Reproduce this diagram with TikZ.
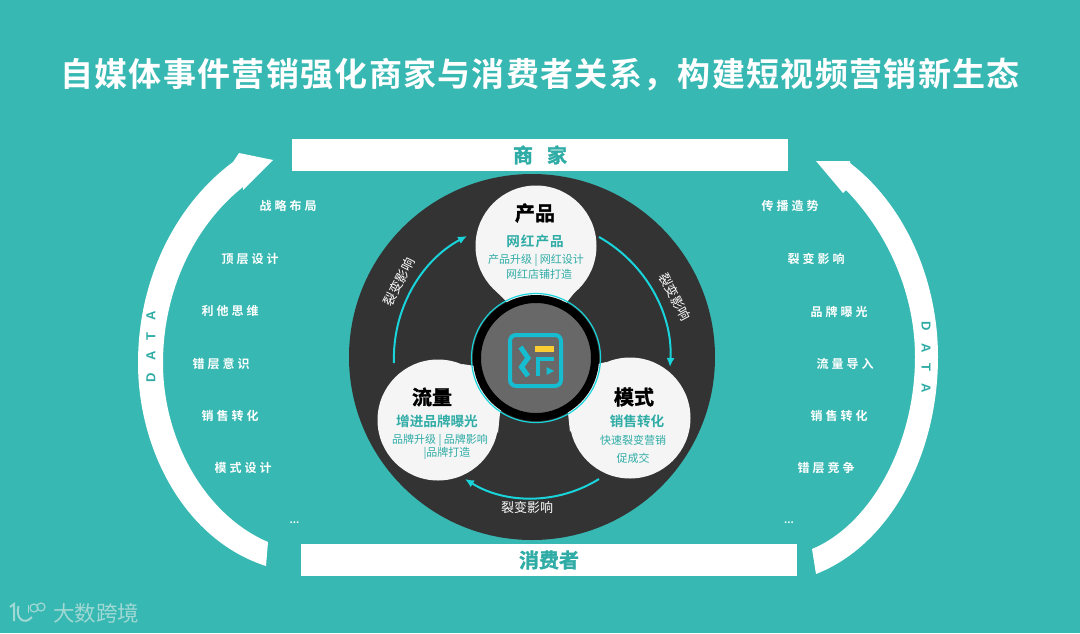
\documentclass[tikz,border=0pt]{standalone}
\usepackage{fontspec}
\setmainfont{Noto Sans CJK SC}[BoldFont={* Bold}]
\newfontfamily\datafont{Liberation Sans}[BoldFont={* Bold},LetterSpace=95]
\newfontfamily\sidefont{Noto Sans CJK SC}[BoldFont={* Bold},LetterSpace=25]
\newfontfamily\titlefont{Noto Sans CJK SC}[BoldFont={* Bold},LetterSpace=4]
\newfontfamily\heavyfont{Noto Sans CJK SC}[UprightFont={* Bold},FakeBold=1.6]
\usetikzlibrary{arrows.meta,positioning}
\definecolor{bgteal}{RGB}{55,184,178}
\definecolor{textteal}{RGB}{47,172,166}
\definecolor{discgray}{RGB}{51,51,51}
\definecolor{hubgray}{RGB}{104,104,104}
\definecolor{ringcyan}{RGB}{25,212,218}
\definecolor{iconcyan}{RGB}{22,188,208}
\definecolor{iconyellow}{RGB}{250,205,50}
\definecolor{petal}{RGB}{245,245,245}
\definecolor{markgray}{RGB}{160,216,212}

\begin{document}
\begin{tikzpicture}[x=1pt,y=-1pt]
        \tikzstyle{banner}=[fill=white,minimum width=496pt,minimum height=32pt,inner sep=0pt,text=textteal,font=\fontsize{20}{22}\heavyfont]
        \tikzstyle{sidelabel}=[text=white,inner sep=0pt,font=\fontsize{12}{14}\sidefont\bfseries]
        \tikzstyle{sidedots}=[text=white,inner sep=0pt,font=\fontsize{10}{11}\selectfont\bfseries]
        \tikzstyle{petalbox}=[circle,fill=petal,minimum size=121pt,inner sep=0pt]
        \tikzstyle{headline}=[inner sep=0pt,text=black,font=\fontsize{20}{22}\heavyfont]
        \tikzstyle{subline}=[inner sep=0pt,text=textteal,font=\fontsize{13.6}{16}\selectfont\bfseries]
        \tikzstyle{detail}=[inner sep=0pt,text=textteal,font=\fontsize{11}{13}\selectfont]
        \tikzstyle{flow}=[-{Latex[length=9pt,width=8pt]},ringcyan,line width=2pt,bend left=32,looseness=.92]
        \tikzstyle{flowlabel}=[inner sep=0pt,text=white,font=\fontsize{13}{15}\selectfont]
        \tikzstyle{logostroke}=[markgray,line width=2pt]
        \fill[bgteal] (0,0) rectangle (1080,633);
        \useasboundingbox (0,0) rectangle (1080,633);
        \node[inner sep=0pt,text=white,font=\fontsize{33}{36}\titlefont\bfseries] (title) at (540,75) {自媒体事件营销强化商家与消费者关系，构建短视频营销新生态};
        \node[banner] (merchant) at (540,155) {商\hspace{14pt}家};
        \node[banner] (consumer) at (549,560) {消费者};
        % big arrows
        \fill[white] (266,566) .. controls (185,540) and (138,450) .. (138,363) .. controls (138,280) and (175,205) .. (233,162) -- (239,153) -- (273,160) -- (243,190) -- (243,187) .. controls (195,225) and (163,290) .. (163,363) .. controls (163,440) and (205,515) .. (268,542) -- cycle;
        \fill[white] (816,574) .. controls (890,545) and (938,455) .. (938,357) .. controls (938,280) and (905,205) .. (850,163) -- (850,161) -- (816,161) -- (843,193) -- (846,190) .. controls (885,230) and (915,290) .. (915,357) .. controls (915,445) and (870,525) .. (812,549) -- cycle;
        \node[inner sep=0pt,rotate=90,text=textteal,font=\fontsize{13}{15}\datafont\bfseries] (dataleft) at (151,347) {DATA};
        \node[inner sep=0pt,rotate=-90,text=textteal,font=\fontsize{13}{15}\datafont\bfseries] (dataright) at (926,357) {DATA};
        % left list
        \node[sidelabel] (l1) at (288,206) {战略布局};
        \node[sidelabel] (l2) at (250,259) {顶层设计};
        \node[sidelabel] (l3) at (230,311) {利他思维};
        \node[sidelabel] (l4) at (221,364) {错层意识};
        \node[sidelabel] (l5) at (230,416) {销售转化};
        \node[sidelabel] (l6) at (243,468) {模式设计};
        \node[sidedots] (l7) at (294.5,523) {...};
        % right list
        \node[sidelabel] (r1) at (790,206) {传播造势};
        \node[sidelabel] (r2) at (816,259) {裂变影响};
        \node[sidelabel] (r3) at (839,312) {品牌曝光};
        \node[sidelabel] (r4) at (845,364) {流量导入};
        \node[sidelabel] (r5) at (839,416) {销售转化};
        \node[sidelabel] (r6) at (826,468) {错层竞争};
        \node[sidedots] (r7) at (789,523) {...};
        % disc
        \node[circle,fill=discgray,minimum size=366pt,inner sep=0pt] (disc) at (532,357) {};
        \coordinate (hub) at (536,358);
        \fill[petal] (497,292) -- (505,300) -- (hub) -- (567,302) -- (575,292) -- cycle;
        \fill[petal] (462,364) -- (475,366) -- (hub) -- (500,413) -- (498,433) -- cycle;
        \fill[petal] (606,362) -- (598,364) -- (hub) -- (568,413) -- (570,432) -- cycle;
        \node[petalbox] (product) at (536,246) {};
        \node[petalbox] (traffic) at (438,420) {};
        \node[petalbox] (mode) at (630,418) {};
        \node[circle,draw=ringcyan,line width=1.2pt,minimum size=129pt,inner sep=0pt] (hubring) at (hub) {};
        \node[circle,fill=hubgray,draw=black,line width=8pt,minimum size=118pt,inner sep=0pt] (hubdisc) at (hub) {};
        % icon
        \draw[iconcyan,line width=4pt,rounded corners=6pt] (510,335) rectangle (561,386);
        \fill[iconyellow] (535,346) rectangle (554,352);
        \draw[iconcyan,line width=5pt] (520.5,347) -- (528,358) -- (521.5,367) -- (528,376);
        \draw[iconcyan,line width=4.5pt] (538,376) -- (538,359) -- (554,359);
        \fill[iconcyan] (546.5,367) -- (554,371) -- (546.5,375) -- cycle;
        % petal text
        \node[headline] (producttitle) at (535,213) {产品};
        \node[subline] (productsub) at (535,241) {网\hspace{1pt}红\hspace{1pt}产\hspace{1pt}品};
        \node[detail] (productone) at (536,260) {产品升级 | 网红设计};
        \node[detail] (producttwo) at (539,274) {网红店铺打造};
        \node[headline] (traffictitle) at (432,397) {流量};
        \node[subline] (trafficsub) at (437,421) {增进品牌曝光};
        \node[detail] (trafficone) at (440,440) {品牌升级 | 品牌影响};
        \node[detail] (traffictwo) at (447,453) {|品牌打造};
        \node[headline] (modetitle) at (634,397) {模式};
        \node[subline] (modesub) at (637,421) {销售转化};
        \node[detail] (modeone) at (633,440) {快速裂变营销};
        \node[detail] (modetwo) at (633,458) {促成交};
        % flow
        \coordinate (prodout) at (599,237);
        \coordinate (modein) at (670,367);
        \coordinate (modeout) at (599,479);
        \coordinate (trafin) at (465,479);
        \coordinate (trafout) at (394,363);
        \coordinate (prodin) at (467,236);
        \draw[flow] (prodout) to (modein);
        \draw[flow] (modeout) to (trafin);
        \draw[flow] (trafout) to (prodin);
        \node[flowlabel,rotate=-62] (flowright) at (675,297) {裂变影响};
        \node[flowlabel] (flowbottom) at (527,508) {裂变影响};
        \node[flowlabel,rotate=63] (flowleft) at (399,282) {裂变影响};
        % watermark
        \draw[logostroke] (10,607) -- (14,604) -- (14,621);
        \draw[logostroke] (18.5,606) .. controls (15,618) and (24,626) .. (32,617);
        \draw[markgray,line width=1.2pt] (28.5,604.5) -- (28.5,613);
        \node[circle,draw=markgray,line width=1.2pt,minimum size=8pt,inner sep=0pt] (markoa) at (34,608) {};
        \node[circle,draw=markgray,line width=1.2pt,minimum size=8pt,inner sep=0pt] (markob) at (41,607) {};
        \node[inner sep=0pt,text=markgray,font=\fontsize{21.5}{23}\selectfont] (markname) at (96,613) {大数跨境};
      \end{tikzpicture}
\end{document}
